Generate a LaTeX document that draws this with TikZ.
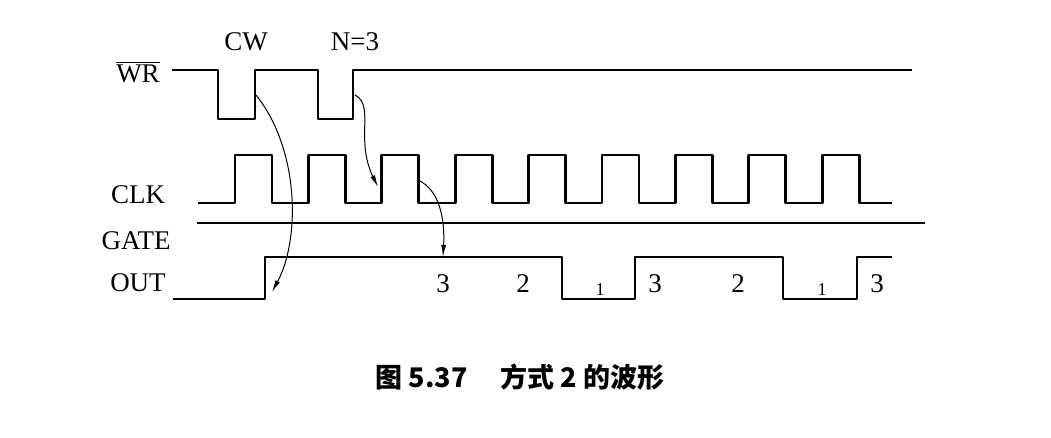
\documentclass[tikz,border=0pt]{standalone}
\usepackage{fontspec}
\setmainfont{Liberation Serif}
\newfontfamily\cjk{Noto Sans CJK SC}
\usetikzlibrary{arrows.meta}
\begin{document}
\begin{tikzpicture}[x=0.5pt,y=-0.5pt,
  wave/.style={line width=1.4pt,line join=round},
  lbl/.style={font=\fontsize{13.5}{15}\selectfont,inner sep=0pt},
  cur/.style={line width=0.5pt,-{Latex[length=6pt,width=2.5pt]}}]
\useasboundingbox (0,0) rectangle (1051,438);
% WR
\draw[wave] (172,70) -- (218,70) -- (218,119) -- (255,119) -- (255,70) -- (318,70) -- (318,119) -- (353,119) -- (353,70) -- (912,70);
\node[lbl] (wr) at (138,72) {$\overline{\mbox{WR}}$};
\node[lbl] (cw) at (246,42) {CW};
\node[lbl] (n3) at (355,42) {N=3};
% CLK
\draw[wave] (198,203)
 \foreach \k in {0,...,8} { -- ({235+73.4*\k},203) -- ({235+73.4*\k},155) -- ({272+73.4*\k},155) -- ({272+73.4*\k},203)} -- (892,203);
\node[lbl] (clk) at (138,195) {CLK};
% GATE
\draw[wave] (197,223) -- (925,223);
\node[lbl] (gate) at (136,241) {GATE};
% OUT
\draw[wave] (173,299) -- (265,299) -- (265,257) -- (562,257) -- (562,299) -- (635,299) -- (635,257) -- (783,257) -- (783,299) -- (857,299) -- (857,257) -- (892,257);
\node[lbl] (out) at (138,283) {OUT};
\foreach \x/\t in {443/3,523/2,655/3,738/2,877/3} \node[lbl] at (\x,284) {\t};
\foreach \x in {600,822} \node[lbl,font=\fontsize{9}{10}\selectfont] at (\x,290) {1};
% arrows
\coordinate (a1) at (256,95); \coordinate (b1) at (272,292);
\draw[cur] (a1) .. controls (300,150) and (300,240) .. (b1);
\coordinate (a2) at (355,95); \coordinate (b2) at (378,187);
\draw[cur] (a2) .. controls (375,105) and (355,140) .. (b2);
\coordinate (a3) at (418,180); \coordinate (b3) at (443,257);
\draw[cur] (a3) .. controls (440,190) and (445,220) .. (b3);
\node[font=\cjk\bfseries\fontsize{13.5}{15}\selectfont] (cap) at (520,377) {图 5.37\quad\ 方式 2 的波形};
\end{tikzpicture}
\end{document}
